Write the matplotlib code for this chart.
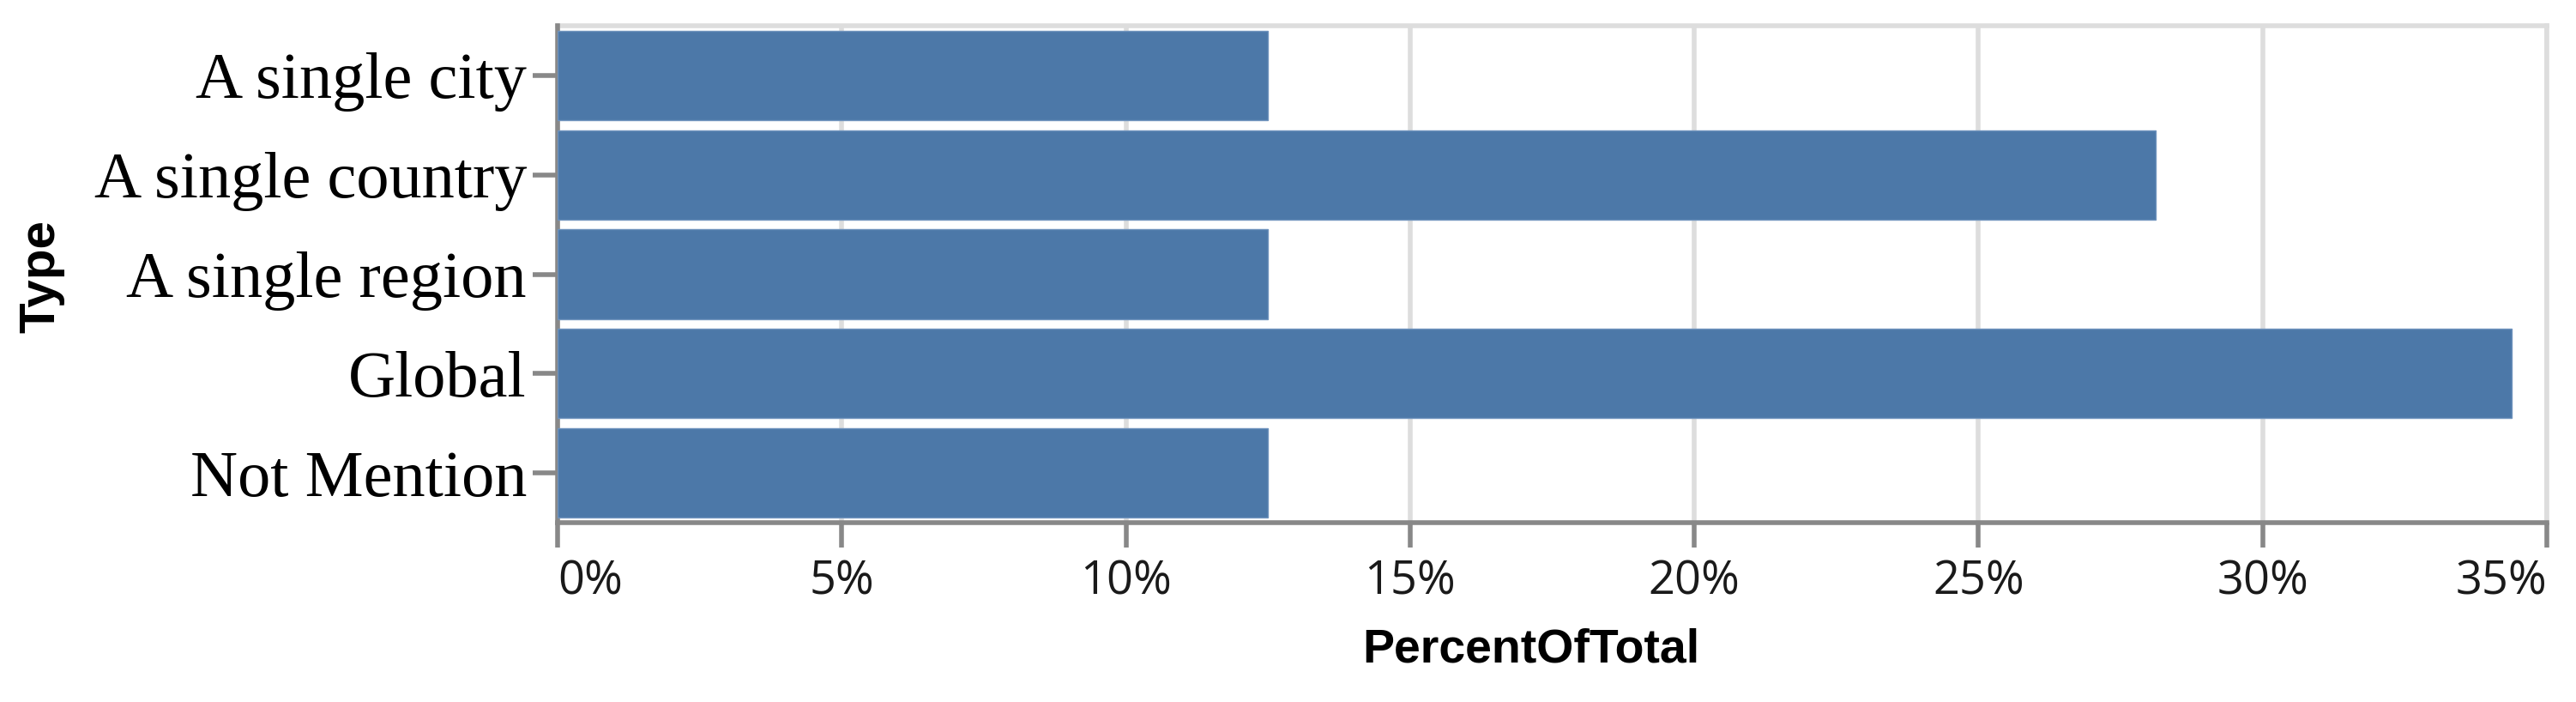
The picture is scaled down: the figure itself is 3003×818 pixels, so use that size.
import matplotlib
matplotlib.use("Agg")
import matplotlib.pyplot as plt
from matplotlib.ticker import FixedLocator, FuncFormatter

categories = ["A single city", "A single country", "A single region", "Global", "Not Mention"]
percent_of_total = [12.5, 28.125, 12.5, 34.375, 12.5]
x_ticks = [0, 5, 10, 15, 20, 25, 30, 35]

W, H = 3003, 818
fig = plt.figure(figsize=(W / 100, H / 100), dpi=100)
L, R, T, B = 650, 2969, 30, 609
ax = fig.add_axes([L / W, 1 - B / H, (R - L) / W, (B - T) / H])

bar_color = "#4c78a8"
grid_color = "#dddddd"
axis_color = "#888888"
lw = 4.0

ypos = list(range(len(categories)))
ax.barh(ypos, percent_of_total, height=0.9, color=bar_color, zorder=3,
        edgecolor="#6f93bd", linewidth=1.0)
ax.set_ylim(len(categories) - 0.5, -0.5)
ax.set_xlim(0, 35)

ax.xaxis.set_major_locator(FixedLocator(x_ticks))
ax.xaxis.set_major_formatter(FuncFormatter(lambda v, p: f"{v:.0f}%"))
ax.set_yticks(ypos)
ax.set_yticklabels(categories)

ax.grid(axis="x", color=grid_color, linewidth=lw, zorder=0)
ax.set_axisbelow(True)

for s in ["top", "right"]:
    ax.spines[s].set_color(grid_color)
    ax.spines[s].set_linewidth(lw)
    ax.spines[s].set_zorder(0.5)
for s in ["left", "bottom"]:
    ax.spines[s].set_color(axis_color)
    ax.spines[s].set_linewidth(lw)
    ax.spines[s].set_zorder(1)

ax.tick_params(axis="both", length=21, width=lw, color=axis_color)
ax.tick_params(axis="y", pad=5)
ax.tick_params(axis="x", pad=9)

for lab in ax.get_yticklabels():
    lab.set_fontfamily("Liberation Serif")
    lab.set_fontsize(55)
    lab.set_color("#000000")
xlabs = ax.get_xticklabels()
for lab in xlabs:
    lab.set_fontfamily("Open Sans")
    lab.set_fontweight("normal")
    lab.set_fontsize(39)
    lab.set_color("#1a1a1a")
xlabs[0].set_ha("left")
xlabs[-1].set_ha("right")

fig.text(1785 / W, 1 - 772 / H, "PercentOfTotal", ha="center", va="baseline",
         fontsize=40, fontweight="bold", family="Liberation Sans", color="#000000")
fig.text(48 / W, 1 - 322 / H, "Type", ha="center", va="center", rotation=90,
         fontsize=42, fontweight="bold", family="Liberation Sans", color="#000000")

fig.savefig("out.png", dpi=100, facecolor="white")
